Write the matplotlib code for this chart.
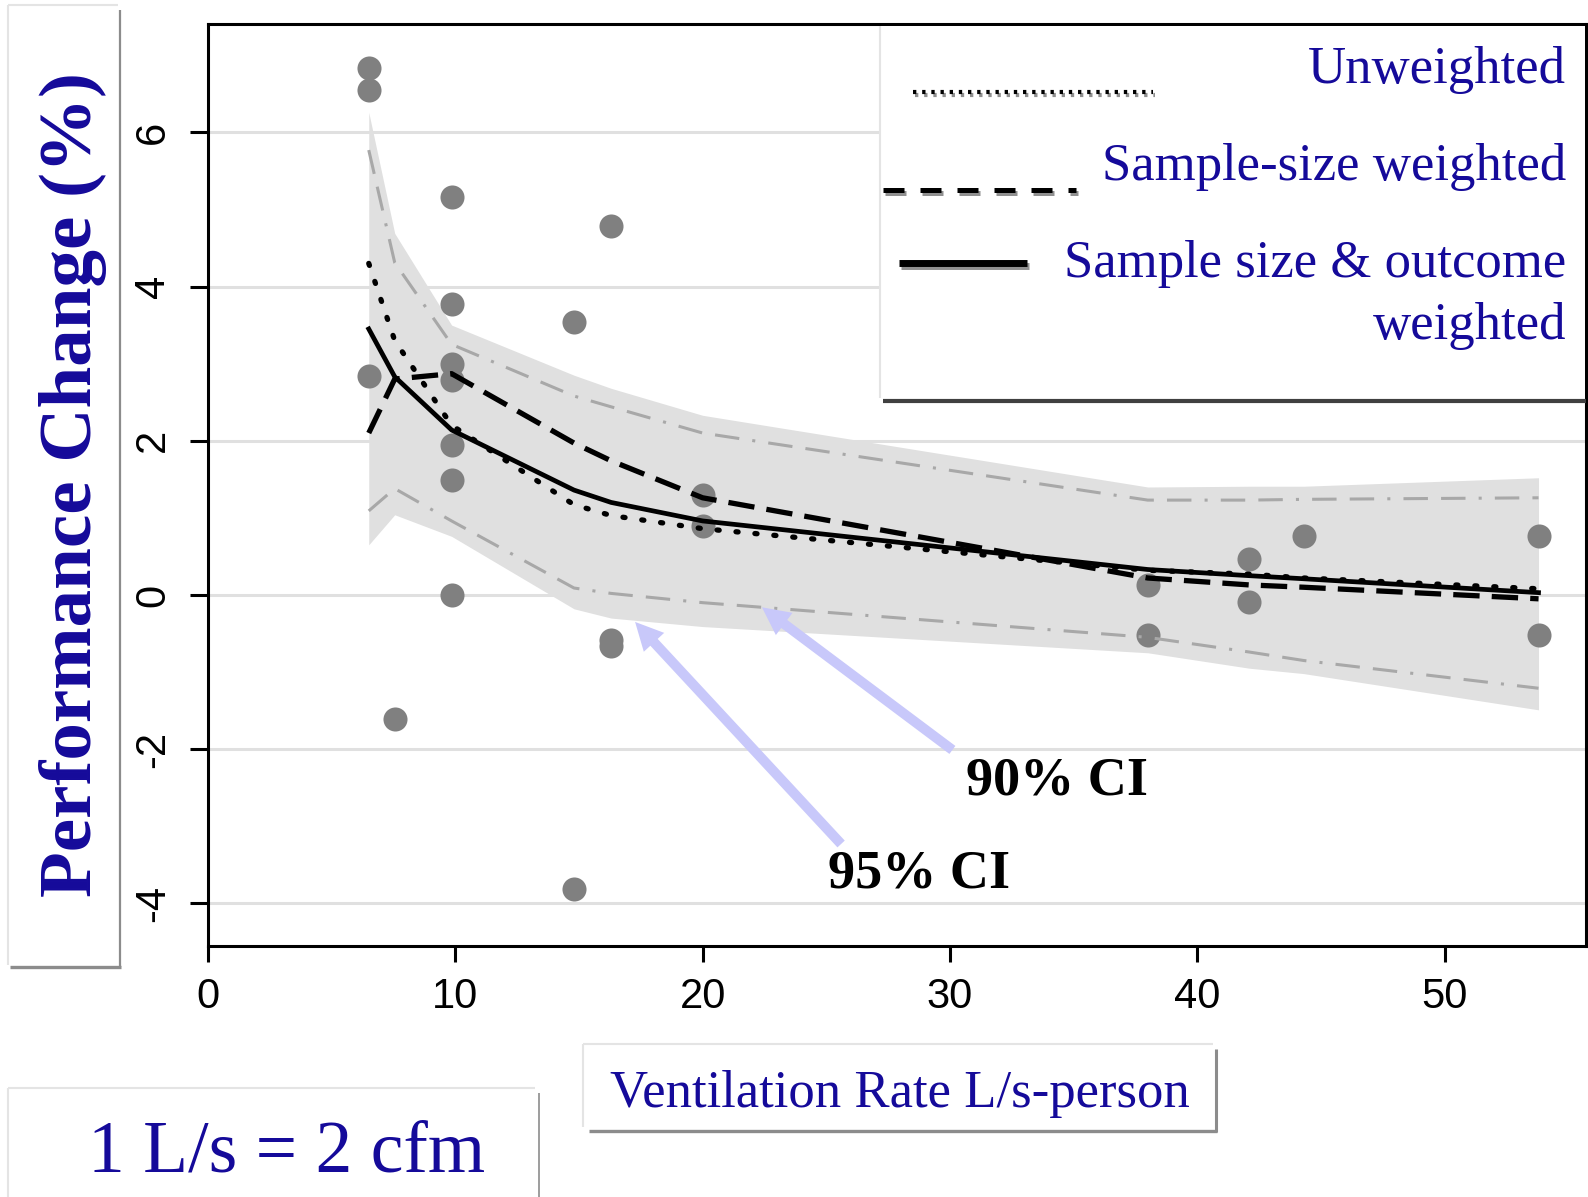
import matplotlib.pyplot as plt
import matplotlib.patheffects as pe
from matplotlib.lines import Line2D
from matplotlib.patches import Rectangle

plt.rcParams["font.family"] = "Liberation Serif"
plt.rcParams["axes.unicode_minus"] = False

W, H = 1588, 1197
BLUE = "#150a9a"

# individual study results
study_x = [6.5, 6.5, 6.5, 7.55, 9.85, 9.85, 9.85, 9.85, 9.85, 9.85, 9.85,
           14.8, 14.8, 16.3, 16.3, 16.3, 20.0, 20.0, 38.0, 38.0, 42.1, 42.1,
           44.3, 53.8, 53.8]
study_y = [6.83, 6.55, 2.84, -1.61, 5.16, 3.77, 3.0, 2.79, 1.95, 1.49, 0.0,
           3.54, -3.81, 4.78, -0.58, -0.66, 1.30, 0.90, 0.13, -0.52, 0.46, -0.09,
           0.76, 0.76, -0.52]

# fitted curves and confidence bands
vent = [6.5, 7.55, 9.85, 14.8, 16.3, 20.0, 38.0, 42.1, 44.3, 53.8]
unweighted = [4.30, 3.30, 2.20, 1.17, 1.03, 0.86, 0.32, 0.27, 0.22, 0.08]
size_weighted = [2.10, 2.80, 2.87, 1.97, 1.74, 1.26, 0.22, 0.13, 0.10, -0.05]
size_outcome_weighted = [3.45, 2.83, 2.14, 1.36, 1.20, 0.96, 0.33, 0.25, 0.21, 0.03]
ci95_upper = [6.26, 4.69, 3.50, 2.85, 2.68, 2.33, 1.40, 1.41, 1.41, 1.52]
ci95_lower = [0.65, 1.04, 0.76, -0.18, -0.30, -0.41, -0.75, -0.95, -1.02, -1.49]
ci90_upper = [5.77, 4.31, 3.25, 2.58, 2.44, 2.10, 1.23, 1.23, 1.24, 1.26]
ci90_lower = [1.09, 1.38, 0.96, 0.09, 0.02, -0.10, -0.55, -0.74, -0.85, -1.21]

legend_labels = ["Unweighted", "Sample-size weighted", "Sample size & outcome", "weighted"]


def fx(px):
    return px / W


def fy(py):
    return 1 - py / H


fig = plt.figure(figsize=(W / 100, H / 100), dpi=100)
ax = fig.add_axes([fx(208), fy(946), (1586 - 208) / W, (946 - 24) / H])

ax.fill_between(vent, ci95_lower, ci95_upper, color="#e0e0e0", lw=0, zorder=1)
ax.scatter(study_x, study_y, s=300, color="#808080", lw=0, zorder=3)
ci_style = dict(color="#a8a8a8", lw=2.2, dashes=(8, 4.3, 8, 4.3, 1, 4.3), zorder=4)
ax.plot(vent, ci90_upper, **ci_style)
ax.plot(vent, ci90_lower, **ci_style)
ax.plot(vent, unweighted, color="black", lw=3.8, dashes=(0.4, 3.2),
        dash_capstyle="round", zorder=5)
ax.plot(vent, size_weighted, color="black", lw=3.8, dashes=(5, 2.3), zorder=5)
ax.plot(vent, size_outcome_weighted, color="black", lw=3.4, zorder=6)

ax.set_xlim(0, 55.72)
ax.set_ylim(-4.553, 7.405)
ax.set_xticks(range(0, 51, 10))
ax.set_yticks(range(-4, 7, 2))
ax.yaxis.grid(True, color="#e0e0e0", lw=2.2, zorder=0)
ax.set_axisbelow(True)
for s in ax.spines.values():
    s.set_linewidth(2.2)
ax.tick_params(axis="x", length=11.5, width=2.2, pad=11, labelsize=30)
ax.tick_params(axis="y", length=13, width=2.2, pad=12, labelsize=30, labelrotation=90)
for lab in ax.get_xticklabels() + ax.get_yticklabels():
    lab.set_fontfamily("Liberation Sans")
for lab in ax.get_yticklabels():
    lab.set_va("center")

# arrows pointing at the confidence bands
arrow = dict(arrowstyle="simple,head_length=1.0,head_width=1.0,tail_width=0.36",
             mutation_scale=20, color="#c8c8fa", lw=0, shrinkA=0, shrinkB=0)
ax.annotate("", xy=(17.27, -0.35), xytext=(25.6, -3.23), arrowprops=arrow, zorder=7)
ax.annotate("", xy=(22.4, -0.16), xytext=(30.1, -2.01), arrowprops=arrow, zorder=7)
ax.text(34.33, -2.59, "90% CI", fontsize=39, fontweight="bold", ha="center", va="baseline")
ax.text(28.75, -3.80, "95% CI", fontsize=39, fontweight="bold", ha="center", va="baseline")


def fig_line(x0, y0, x1, y1, color, lw, z=2):
    fig.add_artist(Line2D([fx(x0), fx(x1)], [fy(y0), fy(y1)], color=color, lw=lw,
                          solid_capstyle="butt", zorder=z))


LIGHT, DARK = "#e4e4e4", "#8c8c8c"

# y label box
fig_line(8, 5, 118, 5, LIGHT, 1.5)
fig_line(8, 5, 8, 965, LIGHT, 1.5)
fig_line(120, 10, 120, 967, DARK, 1.6)
fig_line(10, 967, 121, 967, DARK, 2.4)
fig.text(fx(91), fy(485), "Performance Change (%)", fontsize=54, fontweight="bold",
         color=BLUE, rotation=90, rotation_mode="anchor", ha="center", va="baseline")

# x label box
fig_line(583, 1044, 1213, 1044, LIGHT, 1.5)
fig_line(583, 1044, 583, 1127, LIGHT, 1.5)
fig_line(1216, 1049, 1216, 1132, DARK, 2.2)
fig_line(589, 1131, 1217, 1131, DARK, 2.4)
fig.text(fx(900), fy(1107), "Ventilation Rate L/s-person", fontsize=38, color=BLUE,
         ha="center", va="baseline")

# unit conversion box
fig_line(8, 1088, 535, 1088, LIGHT, 1.5)
fig_line(8, 1088, 8, 1197, LIGHT, 1.5)
fig_line(539, 1093, 539, 1197, DARK, 1.2)
fig.text(fx(287), fy(1172), "1 L/s = 2 cfm", fontsize=53, color=BLUE,
         ha="center", va="baseline")

# legend box
fig.add_artist(Rectangle((fx(881), fy(400)), (1584.5 - 881) / W, (400 - 26) / H,
                         facecolor="white", edgecolor="none", zorder=1))
fig_line(880, 26, 880, 398, LIGHT, 1.5)
fig_line(883, 401, 1586, 401, "#404040", 3)
shadow = [pe.SimpleLineShadow(offset=(1.5, -2), shadow_color="#909090", alpha=1), pe.Normal()]
fig.add_artist(Line2D([fx(913), fx(1153)], [fy(92), fy(92)], color="black", lw=3,
                      dashes=(0.8, 1.4), path_effects=shadow, zorder=3))
fig.add_artist(Line2D([fx(883), fx(1076)], [fy(190), fy(190)], color="black", lw=3.6,
                      dashes=(4.2, 3.2), path_effects=shadow, zorder=3))
fig.add_artist(Line2D([fx(899), fx(1027)], [fy(263), fy(263)], color="black", lw=5,
                      solid_capstyle="butt", path_effects=shadow, zorder=3))
for lab, base in zip(legend_labels, [83, 180, 277, 339]):
    fig.text(fx(1566), fy(base), lab, fontsize=38, color=BLUE, ha="right", va="baseline",
             zorder=4)

fig.savefig("out.png", dpi=100)
